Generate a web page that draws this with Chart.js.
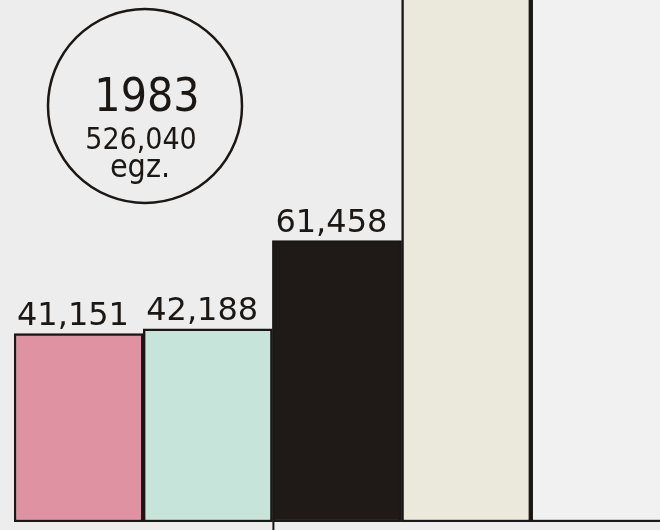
<!DOCTYPE html>
<html>
<head>
<meta charset="utf-8">
<script src="https://cdn.jsdelivr.net/npm/chart.js@4/dist/chart.umd.min.js"></script>
<style>
  html, body { margin: 0; padding: 0; background: #ededed; }
  #wrap { width: 660px; height: 530px; }
</style>
</head>
<body>
<div id="wrap"><canvas id="chart" width="660" height="530"></canvas></div>
<script>
// values; the last two bars run off the top of the sheet
var categories = ["a", "b", "c", "d", "e"];
var values = [41151, 42188, 61458, 160000, 221243];
var valueLabels = ["41,151", "42,188", "61,458", "", ""];
var fills = ["#df93a2", "#c6e4d9", "#1f1a17", "#ebe9dc", "#f1f1f1"];
var yearText = "1983";
var totalText = "526,040";
var unitText = "egz.";

var handFont = "'DejaVu Sans', sans-serif";
var condFont = "'DejaVu Sans Condensed', 'DejaVu Sans', sans-serif";

// number written just above each bar
var barLabels = {
  id: "barLabels",
  afterDatasetsDraw: function(chart) {
    var ctx = chart.ctx;
    var meta = chart.getDatasetMeta(0);
    ctx.save();
    ctx.fillStyle = "#1b1714";
    ctx.font = "32px " + handFont;
    ctx.textAlign = "left";
    ctx.textBaseline = "bottom";
    meta.data.forEach(function(bar, i) {
      if (!valueLabels[i]) return;
      var left = bar.x - bar.width / 2;
      ctx.fillText(valueLabels[i], left + 3, bar.y - 1);
    });
    ctx.restore();
  }
};

// the ringed note in the upper left
var yearBadge = {
  id: "yearBadge",
  afterDraw: function(chart) {
    var ctx = chart.ctx;
    ctx.save();
    ctx.strokeStyle = "#1b1714";
    ctx.lineWidth = 2.5;
    ctx.beginPath();
    ctx.arc(145, 106, 97, 0, Math.PI * 2);
    ctx.stroke();
    ctx.fillStyle = "#1b1714";
    ctx.textAlign = "center";
    ctx.textBaseline = "alphabetic";
    ctx.font = "46px " + condFont;
    ctx.fillText(yearText, 147, 111);
    ctx.font = "30px " + condFont;
    ctx.fillText(totalText, 141, 149);
    ctx.font = "32px " + condFont;
    ctx.fillText(unitText, 140, 177);
    ctx.restore();
  }
};

// the pen stroke of the black bar's left side runs past the base line
var penTick = {
  id: "penTick",
  afterDatasetsDraw: function(chart) {
    var bar = chart.getDatasetMeta(0).data[2];
    var ctx = chart.ctx;
    var x = bar.x - bar.width / 2 + 1;
    ctx.save();
    ctx.strokeStyle = "#1b1714";
    ctx.lineWidth = 2;
    ctx.beginPath();
    ctx.moveTo(x, chart.chartArea.bottom);
    ctx.lineTo(x, chart.height);
    ctx.stroke();
    ctx.restore();
  }
};

var ctx = document.getElementById("chart").getContext("2d");
new Chart(ctx, {
  type: "bar",
  data: {
    labels: categories,
    datasets: [{
      data: values,
      backgroundColor: fills,
      borderColor: "#1b1714",
      borderWidth: 2.5,
      // last bar runs off the right edge of the sheet
      borderSkipped: function(c) { return c.dataIndex === categories.length - 1 ? "right" : false; },
      barPercentage: 1,
      categoryPercentage: 1
    }]
  },
  options: {
    responsive: false,
    animation: false,
    layout: { padding: { left: 14, right: 0, top: 0, bottom: 8 } },
    plugins: { legend: { display: false }, tooltip: { enabled: false } },
    scales: {
      x: { display: false },
      y: { display: false, min: 0, max: 114000 }
    }
  },
  plugins: [barLabels, yearBadge, penTick]
});
</script>
</body>
</html>
